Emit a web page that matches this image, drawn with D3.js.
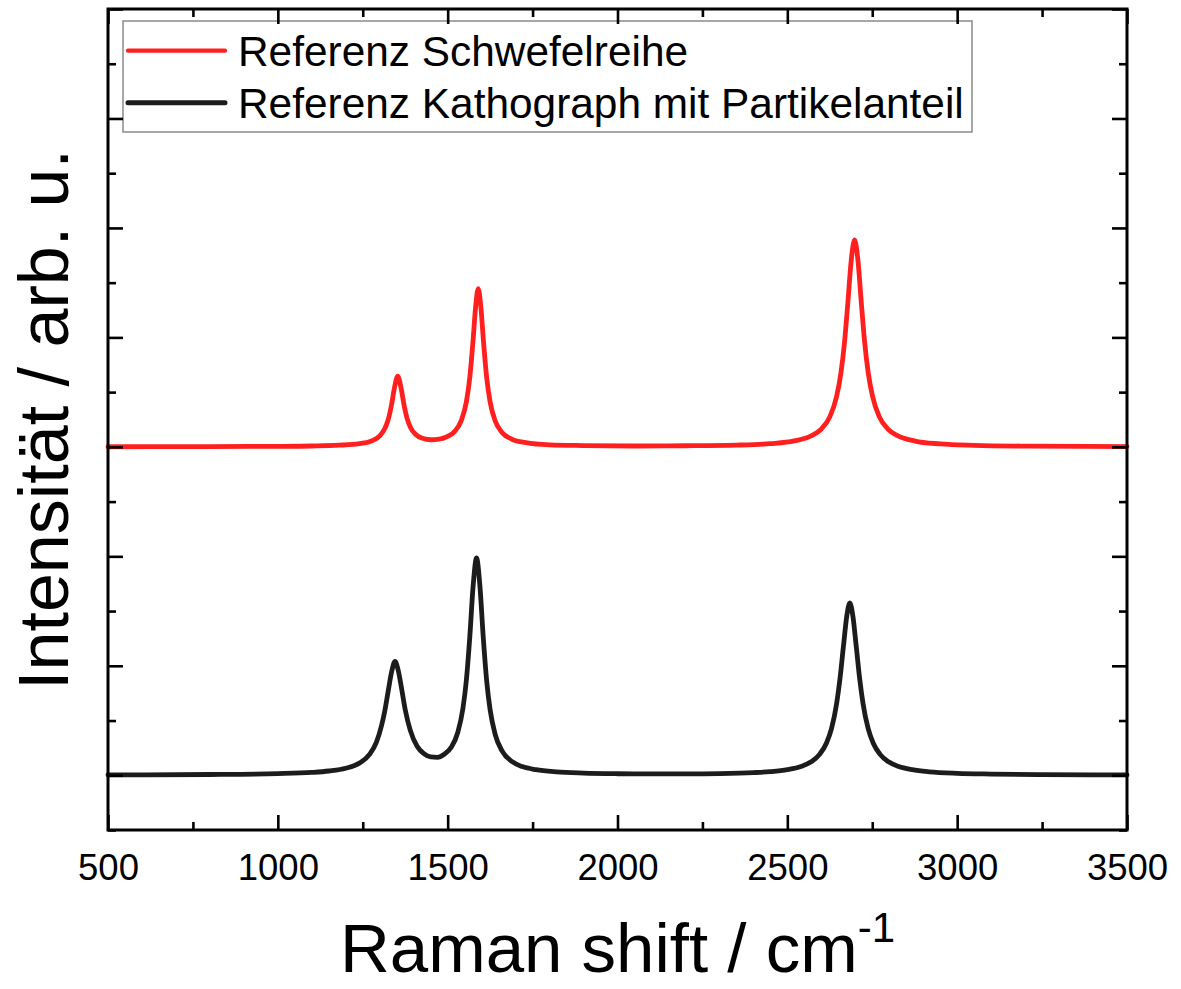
<!DOCTYPE html>
<html>
<head>
<meta charset="utf-8">
<script src="https://cdn.jsdelivr.net/npm/d3@7"></script>
<style>
  html, body { margin: 0; padding: 0; background: #ffffff; }
  svg { display: block; }
</style>
</head>
<body>
<script>
// ---------------- DATA ----------------
const seriesNames = ["Referenz Schwefelreihe", "Referenz Kathograph mit Partikelanteil"];
const seriesColors = ["#ff1f1f", "#1c1c1c"];
const seriesOffsets = [3, 0]; // vertical stacking offset (arb. u.)

// Raman shift (cm^-1), intensity (arb. u., above own baseline)
const spectrumSchwefel = [
  [500,0.001],[800,0.003],[1000,0.005],[1100,0.008],[1180,0.015],[1240,0.029],[1280,0.060],
  [1300,0.101],[1315,0.168],[1325,0.25],[1335,0.388],[1343,0.533],[1353,0.645],[1363,0.535],
  [1371,0.392],[1381,0.256],[1391,0.175],[1406,0.113],[1426,0.078],[1450,0.065],[1475,0.070],
  [1500,0.095],[1520,0.139],[1540,0.24],[1555,0.41],[1565,0.631],[1575,0.982],[1582,1.269],
  [1590,1.445],[1598,1.268],[1605,0.981],[1615,0.629],[1625,0.41],[1640,0.236],[1660,0.132],
  [1690,0.069],[1730,0.038],[1800,0.018],[1900,0.012],[2050,0.008],[2200,0.010],[2350,0.016],
  [2450,0.029],[2520,0.054],[2570,0.100],[2600,0.163],[2625,0.274],[2645,0.46],[2658,0.681],
  [2668,0.945],[2678,1.309],[2688,1.701],[2698,1.89],[2708,1.701],[2718,1.308],[2728,0.945],
  [2738,0.680],[2751,0.46],[2771,0.274],[2796,0.163],[2826,0.100],[2876,0.053],[2950,0.027],
  [3050,0.014],[3200,0.007],[3500,0.003]
];

const spectrumKathograph = [
  [500,0.003],[800,0.007],[1000,0.015],[1100,0.026],[1150,0.039],[1200,0.064],[1240,0.111],
  [1270,0.19],[1290,0.30],[1305,0.45],[1315,0.59],[1325,0.77],[1335,0.945],[1345,1.04],
  [1355,0.95],[1365,0.78],[1375,0.60],[1390,0.41],[1410,0.265],[1430,0.197],[1450,0.167],
  [1470,0.164],[1490,0.192],[1510,0.253],[1530,0.393],[1545,0.612],[1555,0.867],[1565,1.257],
  [1575,1.731],[1585,1.985],[1595,1.727],[1605,1.25],[1615,0.857],[1625,0.598],[1640,0.372],
  [1660,0.223],[1690,0.124],[1720,0.079],[1760,0.051],[1820,0.031],[1900,0.020],[2000,0.014],
  [2100,0.012],[2200,0.012],[2300,0.015],[2400,0.024],[2450,0.033],[2500,0.051],[2540,0.080],
  [2570,0.123],[2595,0.191],[2615,0.293],[2630,0.426],[2645,0.653],[2655,0.882],[2665,1.173],
  [2675,1.454],[2684,1.575],[2693,1.454],[2703,1.173],[2713,0.882],[2723,0.653],[2738,0.426],
  [2753,0.293],[2773,0.191],[2798,0.123],[2828,0.080],[2868,0.051],[2918,0.032],[3000,0.018],
  [3100,0.011],[3250,0.006],[3500,0.003]
];

const xMajorTicks = [500, 1000, 1500, 2000, 2500, 3000, 3500];
const xMinorTicks = [750, 1250, 1750, 2250, 2750, 3250];
const yMajorTicks = [0, 1, 2, 3, 4, 5, 6, 7];
const yMinorTicks = [-0.5, 0.5, 1.5, 2.5, 3.5, 4.5, 5.5, 6.5];
const xDomain = [500, 3500];
const yDomain = [-0.5, 7];
const xTitle = "Raman shift / cm";
const xTitleSup = "-1";
const yTitle = "Intensität / arb. u.";

// ---------------- DRAWING ----------------
const W = 1181, H = 989;
const FONT = "'Liberation Sans', Arial, Helvetica, sans-serif";
const svg = d3.select("body").append("svg").attr("width", W).attr("height", H);

const x = d3.scaleLinear().domain(xDomain).range([108, 1127]);
const y = d3.scaleLinear().domain(yDomain).range([830, 9]);

const spectra = [spectrumSchwefel, spectrumKathograph];

// curves
spectra.forEach((data, i) => {
  const line = d3.line()
    .x(d => x(d[0]))
    .y(d => y(d[1] + seriesOffsets[i]))
    .curve(d3.curveMonotoneX);
  svg.append("path")
    .datum(data)
    .attr("d", line)
    .attr("fill", "none")
    .attr("stroke", seriesColors[i])
    .attr("stroke-width", 4.8)
    .attr("stroke-linejoin", "round")
    .attr("stroke-linecap", "round");
});

// legend
const legend = svg.append("g");
legend.append("rect")
  .attr("x", 123).attr("y", 21).attr("width", 849).attr("height", 111)
  .attr("fill", "#ffffff").attr("stroke", "#8a8a8a").attr("stroke-width", 1.5);
const legendRows = [50.7, 102.7];
seriesNames.forEach((name, i) => {
  legend.append("line")
    .attr("x1", 128).attr("x2", 225)
    .attr("y1", legendRows[i]).attr("y2", legendRows[i])
    .attr("stroke", seriesColors[i])
    .attr("stroke-width", i === 0 ? 4.2 : 5)
    .attr("stroke-linecap", "round");
  legend.append("text")
    .attr("x", 238).attr("y", legendRows[i] + 14.8)
    .attr("font-family", FONT).attr("font-size", 42.4)
    .attr("fill", "#000")
    .text(name);
});

// axes (ticks inward)
function styleAxis(g) {
  g.select(".domain").remove();
  g.selectAll(".tick line").attr("stroke", "#000").attr("stroke-width", 2.6);
  g.selectAll("text").attr("font-family", FONT).attr("font-size", 36.5).attr("fill", "#000");
}

svg.append("g").attr("transform", `translate(0,${y(yDomain[0])})`)
  .call(d3.axisBottom(x).tickValues(xMajorTicks).tickSize(-15).tickPadding(24).tickFormat(d3.format("d")))
  .call(styleAxis);
svg.append("g").attr("transform", `translate(0,${y(yDomain[0])})`)
  .call(d3.axisBottom(x).tickValues(xMinorTicks).tickSize(-8).tickFormat(""))
  .call(styleAxis);
svg.append("g").attr("transform", `translate(0,${y(yDomain[1])})`)
  .call(d3.axisTop(x).tickValues(xMajorTicks).tickSize(-15).tickFormat(""))
  .call(styleAxis);
svg.append("g").attr("transform", `translate(0,${y(yDomain[1])})`)
  .call(d3.axisTop(x).tickValues(xMinorTicks).tickSize(-8).tickFormat(""))
  .call(styleAxis);
svg.append("g").attr("transform", `translate(${x(xDomain[0])},0)`)
  .call(d3.axisLeft(y).tickValues(yMajorTicks).tickSize(-15).tickFormat(""))
  .call(styleAxis);
svg.append("g").attr("transform", `translate(${x(xDomain[0])},0)`)
  .call(d3.axisLeft(y).tickValues(yMinorTicks).tickSize(-8).tickFormat(""))
  .call(styleAxis);
svg.append("g").attr("transform", `translate(${x(xDomain[1])},0)`)
  .call(d3.axisRight(y).tickValues(yMajorTicks).tickSize(-15).tickFormat(""))
  .call(styleAxis);
svg.append("g").attr("transform", `translate(${x(xDomain[1])},0)`)
  .call(d3.axisRight(y).tickValues(yMinorTicks).tickSize(-8).tickFormat(""))
  .call(styleAxis);

// frame
svg.append("rect")
  .attr("x", x(xDomain[0])).attr("y", y(yDomain[1]))
  .attr("width", x(xDomain[1]) - x(xDomain[0]))
  .attr("height", y(yDomain[0]) - y(yDomain[1]))
  .attr("fill", "none").attr("stroke", "#000").attr("stroke-width", 3);

// axis titles
const xt = svg.append("text")
  .attr("x", (x(xDomain[0]) + x(xDomain[1])) / 2)
  .attr("y", 972)
  .attr("text-anchor", "middle")
  .attr("font-family", FONT).attr("font-size", 69)
  .attr("fill", "#000");
xt.append("tspan").text(xTitle);
xt.append("tspan").attr("dy", -30).attr("font-size", 42).text(xTitleSup);

svg.append("text")
  .attr("transform", `translate(68,${(y(yDomain[0]) + y(yDomain[1])) / 2}) rotate(-90)`)
  .attr("text-anchor", "middle")
  .attr("font-family", FONT).attr("font-size", 70)
  .attr("fill", "#000")
  .text(yTitle);
</script>
</body>
</html>
